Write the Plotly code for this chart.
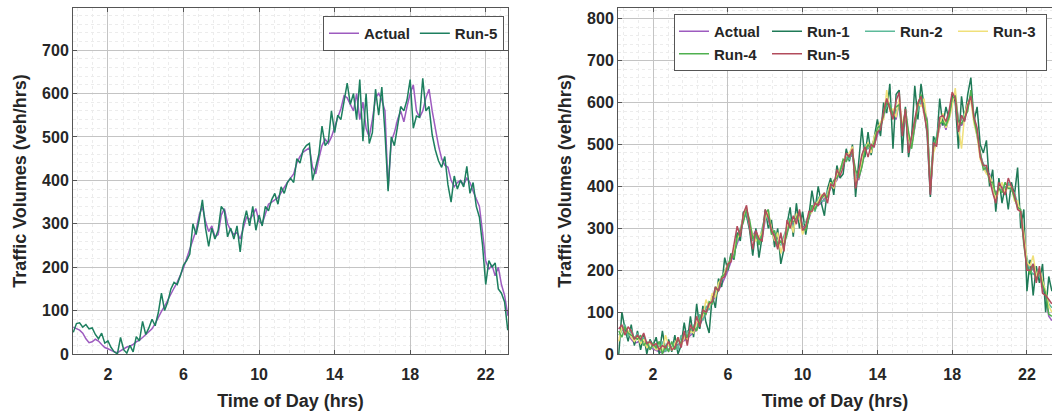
import plotly.graph_objects as go

# time of day in hours, 10-minute steps from 00:10 to 23:20
time_hrs = [k / 6 for k in range(1, 141)]

actual = [
    62, 58, 55, 48, 35, 26,
    28, 34, 30, 22, 15, 12,
    8, 5, 3, 8, 12, 16,
    18, 22, 28, 32, 38, 45,
    50, 58, 70, 85, 98, 110,
    125, 140, 152, 165, 180, 198,
    220, 240, 262, 285, 320, 340,
    305, 282, 295, 270, 275, 320,
    335, 300, 285, 275, 280, 265,
    290, 315, 310, 320, 335, 305,
    300, 320, 345, 350, 355, 360,
    372, 385, 395, 405, 415, 440,
    455, 465, 470, 475, 430, 415,
    450, 480, 495, 485, 500, 525,
    545, 565, 595, 590, 575, 560,
    600, 540, 580, 520, 500, 540,
    590, 600, 585, 560, 380, 490,
    510, 540, 560, 535, 570, 600,
    620, 560, 545, 560, 590, 610,
    560, 520, 480, 450, 435, 430,
    400, 385, 395, 400, 390, 405,
    395, 375, 355, 340, 280, 215,
    195, 205, 180, 200, 160, 135,
    90, 80,
]

# Run-5 shown against the actual counts in the left panel
run5_single = [
    50, 70, 72, 62, 68, 58,
    60, 45, 35, 48, 25, 30,
    15, 5, 0, 38, 10, 2,
    20, 5, 40, 30, 75, 45,
    60, 80, 65, 95, 140, 100,
    120, 150, 165, 160, 180, 205,
    215, 230, 300, 275, 310, 355,
    290, 248, 290, 265, 285, 340,
    330, 270, 290, 265, 295, 235,
    300, 330, 295, 340, 285, 320,
    295, 340, 330, 355, 370, 345,
    385, 370, 395, 405, 395, 450,
    440, 470, 480, 485, 400, 430,
    460, 525, 480, 490, 560, 510,
    550, 540, 585, 624, 575, 600,
    540, 632, 490, 600, 485, 510,
    610, 550, 615, 510, 375, 500,
    480, 525, 570, 560, 585, 632,
    520, 548, 545, 635, 560, 570,
    505, 470, 445, 430, 455, 390,
    350, 410, 380, 400, 385, 432,
    370, 395, 340, 315, 250, 160,
    215, 200, 210, 150, 140, 120,
    55, 85,
]

run1 = [
    0, 100, 60, 30, 70, 20,
    55, 10, 45, 0, 35, 20,
    40, 0, 55, 10, 35, 5,
    45, 0, 20, 75, 30, 90,
    40, 120, 60, 115, 75, 50,
    140, 110, 180, 160, 230, 200,
    240, 225, 290, 270, 340, 330,
    295, 235, 300, 230, 280, 345,
    300, 320, 255, 300, 215, 250,
    310, 350, 280, 360, 300, 340,
    285, 330, 390, 345, 400, 360,
    330, 395, 420, 380, 450, 420,
    430, 490, 460, 500, 375, 450,
    540, 470, 530, 475, 520, 560,
    520, 600, 575, 645, 490, 620,
    630, 480, 590, 470, 520, 640,
    560, 645, 590, 520, 375, 520,
    500, 610, 545, 590, 560, 620,
    600, 490, 615, 560, 620, 660,
    555, 590, 500, 480, 510, 400,
    440, 340, 420, 360, 400, 345,
    410, 380, 445, 300, 345, 150,
    225, 140, 210, 170, 215, 100,
    185, 150,
]

run2 = [
    45, 55, 70, 40, 60, 35,
    50, 30, 40, 20, 30, 15,
    20, 10, 30, 5, 25, 15,
    30, 10, 45, 35, 55, 50,
    70, 60, 95, 80, 115, 105,
    130, 150, 165, 175, 200, 210,
    230, 255, 270, 300, 325, 335,
    300, 270, 285, 265, 300, 330,
    320, 290, 275, 265, 260, 280,
    300, 325, 300, 330, 320, 310,
    315, 335, 350, 340, 375, 365,
    365, 390, 400, 400, 430, 440,
    450, 470, 465, 485, 420, 430,
    470, 500, 490, 495, 515, 530,
    540, 575, 590, 600, 565, 580,
    590, 530, 570, 510, 505, 560,
    580, 610, 590, 540, 410, 500,
    520, 560, 565, 550, 575, 605,
    600, 545, 560, 575, 595, 620,
    570, 530, 470, 455, 440, 420,
    395, 375, 400, 390, 395, 410,
    390, 385, 360, 330, 270, 230,
    200, 190, 195, 185, 170, 150,
    120, 110,
]

run3 = [
    30, 65, 50, 55, 40, 30,
    40, 25, 35, 15, 25, 20,
    10, 15, 5, 45, 20, 10,
    25, 40, 20, 40, 35, 55,
    50, 75, 80, 90, 130, 110,
    145, 135, 170, 180, 195, 215,
    225, 250, 275, 290, 330, 350,
    310, 285, 270, 280, 290, 325,
    340, 300, 270, 290, 240, 270,
    305, 320, 290, 335, 325, 285,
    310, 330, 340, 355, 365, 380,
    375, 380, 410, 395, 425, 445,
    460, 475, 480, 495, 410, 425,
    455, 490, 505, 480, 520, 535,
    555, 560, 630, 580, 585, 565,
    610, 545, 575, 515, 495, 550,
    600, 590, 610, 545, 400, 480,
    505, 545, 575, 540, 560, 590,
    635, 545, 490, 570, 600, 605,
    550, 520, 465, 445, 430, 425,
    405, 370, 390, 410, 385, 400,
    400, 365, 365, 335, 290, 220,
    210, 235, 185, 205, 175, 150,
    115, 100,
]

run4 = [
    55, 40, 65, 50, 45, 40,
    35, 45, 20, 30, 10, 25,
    15, 30, 0, 20, 5, 30,
    10, 35, 25, 50, 40, 60,
    65, 55, 85, 100, 95, 125,
    120, 160, 150, 185, 190, 205,
    235, 230, 280, 295, 315, 345,
    320, 275, 290, 260, 285, 335,
    345, 285, 295, 260, 270, 260,
    285, 320, 315, 325, 340, 300,
    295, 325, 355, 345, 360, 370,
    380, 375, 400, 415, 420, 435,
    465, 460, 475, 480, 440, 420,
    445, 485, 500, 490, 505, 540,
    545, 570, 600, 595, 570, 590,
    595, 535, 585, 530, 490, 545,
    595, 620, 580, 555, 390, 495,
    515, 550, 555, 545, 565, 610,
    615, 555, 550, 565, 580, 630,
    560, 525, 485, 440, 445, 410,
    410, 380, 395, 385, 410, 395,
    395, 370, 350, 345, 260, 210,
    190, 215, 175, 200, 165, 145,
    95, 90,
]

run5 = [
    60, 70, 45, 65, 55, 35,
    45, 35, 50, 25, 30, 20,
    25, 10, 20, 15, 30, 10,
    15, 40, 15, 55, 20, 70,
    55, 90, 65, 105, 100, 120,
    125, 160, 150, 180, 185, 215,
    220, 260, 305, 280, 335, 355,
    300, 250, 295, 275, 270, 345,
    325, 295, 280, 250, 290, 245,
    320, 300, 330, 310, 345, 295,
    305, 340, 340, 360, 355, 375,
    385, 360, 405, 400, 440, 425,
    445, 480, 470, 490, 395, 440,
    475, 495, 470, 500, 495, 530,
    535, 580, 610, 585, 560, 605,
    625, 520, 585, 480, 520, 555,
    600, 615, 575, 530, 380, 505,
    495, 565, 570, 555, 580, 625,
    610, 530, 570, 555, 595, 615,
    565, 540, 470, 450, 450, 415,
    385, 360, 410, 395, 380, 420,
    400, 380, 345, 340, 270, 200,
    200, 215, 170, 210, 145, 140,
    130, 120,
]

run_names = ["Run-1", "Run-2", "Run-3", "Run-4", "Run-5"]
# legend column each run sits in (4 columns, filled row by row)
run_columns = ["c2", "c3", "c4", "c1", "c2"]

x_ticks = [2, 6, 10, 14, 18, 22]
y_ticks_left = [0, 100, 200, 300, 400, 500, 600, 700]
y_ticks_right = [0, 100, 200, 300, 400, 500, 600, 700, 800]

W, H = 1052, 414
FONT = "Liberation Sans, Arial, sans-serif"
TXT = "#262626"

C_ACTUAL = "#9d5bbf"
C_RUN5_L = "#1d7f5f"
C_RUNS = ["#1f7a57", "#5dba9a", "#f0e07a", "#4fb04f", "#b24c5c"]

fig = go.Figure()

# left panel
fig.add_trace(go.Scatter(x=time_hrs, y=actual, mode="lines", name="Actual",
                         line=dict(color=C_ACTUAL, width=1.5),
                         xaxis="x", yaxis="y", legend="legend"))
fig.add_trace(go.Scatter(x=time_hrs, y=run5_single, mode="lines", name="Run-5",
                         line=dict(color=C_RUN5_L, width=1.5),
                         xaxis="x", yaxis="y", legend="legend"))

# right panel
fig.add_trace(go.Scatter(x=time_hrs, y=actual, mode="lines", name="Actual",
                         line=dict(color=C_ACTUAL, width=1.5),
                         xaxis="x2", yaxis="y2", legend="legend2",
                         legendgroup="c1"))
for name, vals, col, grp in zip(run_names, [run1, run2, run3, run4, run5],
                                C_RUNS, run_columns):
    fig.add_trace(go.Scatter(x=time_hrs, y=vals, mode="lines", name=name,
                             line=dict(color=col, width=1.5),
                             xaxis="x2", yaxis="y2", legend="legend2",
                             legendgroup=grp))


def px_x(p):
    return p / W


def px_y(p):
    return 1 - p / H


common_x = dict(
    tickmode="array", tickvals=x_ticks, automargin=False,
    showgrid=True, gridcolor="#c4c4c4", gridwidth=1,
    minor=dict(dtick=0.8, tick0=2, showgrid=True, gridcolor="#ececec",
               griddash="dot", gridwidth=1),
    ticks="inside", ticklen=4, tickcolor="#555555",
    showline=True, linecolor="#555555", linewidth=1, mirror="ticks",
    zeroline=False, ticklabelstandoff=6,
    tickfont=dict(family=FONT, size=16, color=TXT, weight="bold"),
    title=dict(text="Time of Day (hrs)", standoff=12,
               font=dict(family=FONT, size=18, color=TXT, weight="bold")),
)
common_y = dict(
    automargin=False,
    showgrid=True, gridcolor="#c4c4c4", gridwidth=1,
    minor=dict(dtick=20, tick0=0, showgrid=True, gridcolor="#ececec",
               griddash="dot", gridwidth=1),
    ticks="inside", ticklen=4, tickcolor="#555555",
    showline=True, linecolor="#555555", linewidth=1,
    zeroline=False,
    tickfont=dict(family=FONT, size=16, color=TXT, weight="bold"),
    title=dict(text="Traffic Volumes (veh/hrs)", standoff=10,
               font=dict(family=FONT, size=18, color=TXT, weight="bold")),
)

ydom = [px_y(354), px_y(8)]

fig.update_layout(
    width=W, height=H,
    margin=dict(l=0, r=0, t=0, b=0, autoexpand=False),
    paper_bgcolor="white", plot_bgcolor="white",
    font=dict(family=FONT, color=TXT),
    xaxis=dict(domain=[px_x(73), px_x(508)], range=[0.15, 23.18],
               anchor="y", **common_x),
    yaxis=dict(domain=ydom, range=[0, 797], anchor="x",
               tickmode="array", tickvals=y_ticks_left, mirror="ticks",
               **common_y),
    xaxis2=dict(domain=[px_x(618), 1.0], range=[0.125, 23.34],
                anchor="y2", **common_x),
    yaxis2=dict(domain=ydom, range=[0, 826], anchor="x2",
                tickmode="array", tickvals=y_ticks_right, mirror=False,
                **common_y),
    legend=dict(
        x=px_x(504), y=px_y(16), xanchor="right", yanchor="top",
        orientation="h", bgcolor="white", bordercolor="#555555",
        borderwidth=1, font=dict(family=FONT, size=15, color=TXT, weight="bold"),
    ),
    legend2=dict(
        x=px_x(674), y=px_y(14), xanchor="left", yanchor="top",
        orientation="h", traceorder="grouped", tracegroupgap=0,
        bgcolor="white", bordercolor="#555555",
        borderwidth=1, font=dict(family=FONT, size=15, color=TXT, weight="bold"),
        entrywidth=48, entrywidthmode="pixels",
    ),
    showlegend=True,
)

fig.write_html("out.html")
